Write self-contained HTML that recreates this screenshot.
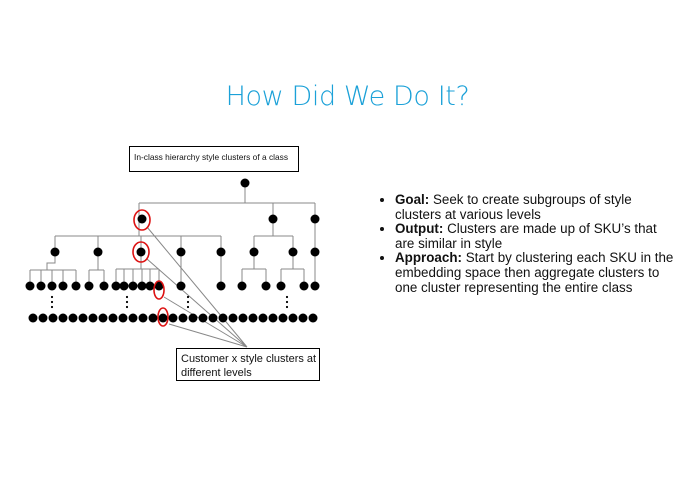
<!DOCTYPE html>
<html><head><meta charset="utf-8"><style>
body{margin:0;width:695px;height:494px;background:#fff;overflow:hidden;position:relative;font-family:"Liberation Sans",sans-serif}
.t{position:absolute;left:0;width:695px;top:81px;text-align:center;font-size:27px;color:#1ba1d8;font-family:"DejaVu Sans","Liberation Sans",sans-serif;font-weight:200;letter-spacing:-0.4px}
ul{position:absolute;left:373px;top:193px;margin:0;padding:0 0 0 22px;width:300px;font-size:13.4px;line-height:14.6px;color:#111}
li{margin:0;white-space:nowrap}
</style></head><body>
<div class="t">How Did We Do It?</div>
<ul>
<li><b>Goal:</b> Seek to create subgroups of style<br>clusters at various levels</li>
<li><b>Output:</b> Clusters are made up of SKU’s that<br>are similar in style</li>
<li><b>Approach:</b> Start by clustering each SKU in the<br>embedding space then aggregate clusters to<br>one cluster representing the entire class</li>
</ul>
<svg width="695" height="494" style="position:absolute;left:0;top:0">
<g stroke="#888" stroke-width="1" fill="none">
<path d="M245 183V203M139 203H315M139 203V219M273 203V219M315 203V219"/>
<path d="M139 219V236M55 236H221M55 236V252M98 236V252M141 236V252M181 236V252M221 236V252"/>
<path d="M273 219V236M254 236H293M254 236V252M293 236V252M315 219V286"/>
<path d="M55 252V263H47V270M30 270H76M30 270V286M41 270V286M52 270V286M63 270V286M76 270V286"/>
<path d="M98 252V270M89 270H104M89 270V286M104 270V286"/>
<path d="M141 252V269M116 269H159M116 269V286M124 269V286M133 269V286M142 269V286M150 269V286M159 269V286"/>
<path d="M181 252V286M221 252V286"/>
<path d="M254 252V269M242 269H266M242 269V286M266 269V286"/>
<path d="M293 252V269M281 269H304M281 269V286M304 269V286"/>
<path d="M247 347L147 227M247 347L147 259M247 347L164 297M247 347L169 324"/>
</g>
<g fill="#000">
<circle cx="245" cy="183" r="4.5"/>
<circle cx="142" cy="219" r="4.5"/><circle cx="273" cy="219" r="4.5"/><circle cx="315" cy="219" r="4.5"/>
<circle cx="55" cy="252" r="4.5"/><circle cx="98" cy="252" r="4.5"/><circle cx="141" cy="252" r="4.5"/><circle cx="181" cy="252" r="4.5"/><circle cx="221" cy="252" r="4.5"/><circle cx="254" cy="252" r="4.5"/><circle cx="293" cy="252" r="4.5"/><circle cx="315" cy="252" r="4.5"/>
<circle cx="30" cy="286" r="4.5"/><circle cx="41" cy="286" r="4.5"/><circle cx="52" cy="286" r="4.5"/><circle cx="63" cy="286" r="4.5"/><circle cx="76" cy="286" r="4.5"/><circle cx="89" cy="286" r="4.5"/><circle cx="104" cy="286" r="4.5"/><circle cx="116" cy="286" r="4.5"/><circle cx="124" cy="286" r="4.5"/><circle cx="133" cy="286" r="4.5"/><circle cx="142" cy="286" r="4.5"/><circle cx="150" cy="286" r="4.5"/><circle cx="159" cy="286" r="4.5"/><circle cx="181" cy="286" r="4.5"/><circle cx="221" cy="286" r="4.5"/><circle cx="242" cy="286" r="4.5"/><circle cx="266" cy="286" r="4.5"/><circle cx="281" cy="286" r="4.5"/><circle cx="304" cy="286" r="4.5"/><circle cx="315" cy="286" r="4.5"/>
<g id="d"><circle cx="52" cy="297" r="1.1"/><circle cx="52" cy="302" r="1.1"/><circle cx="52" cy="307" r="1.1"/></g>
<use href="#d" x="75"/><use href="#d" x="136"/><use href="#d" x="235"/>
<g id="r"><circle cx="33" cy="318" r="4.5"/><circle cx="43" cy="318" r="4.5"/><circle cx="53" cy="318" r="4.5"/><circle cx="63" cy="318" r="4.5"/><circle cx="73" cy="318" r="4.5"/><circle cx="83" cy="318" r="4.5"/><circle cx="93" cy="318" r="4.5"/></g>
<use href="#r" x="70"/><use href="#r" x="140"/><use href="#r" x="210"/><circle cx="313" cy="318" r="4.5"/>
</g>
<g stroke="#d11" stroke-width="1.6" fill="none">
<ellipse cx="142" cy="220" rx="8" ry="10"/><ellipse cx="141" cy="252" rx="8" ry="10"/>
<ellipse cx="159" cy="290" rx="5" ry="9"/><ellipse cx="163" cy="317" rx="5" ry="9"/>
</g>
<rect x="129.5" y="146.5" width="169" height="25" fill="#fff" stroke="#000"/>
<text x="134" y="160" font-size="8.4" font-family="Liberation Sans" fill="#111">In-class hierarchy style clusters of a class</text>
<rect x="176.5" y="348.5" width="143" height="32" fill="#fff" stroke="#000"/>
<text x="181" y="362" font-size="11" font-family="Liberation Sans" fill="#111">Customer x style clusters at</text>
<text x="181" y="376" font-size="11" font-family="Liberation Sans" fill="#111">different levels</text>
</svg>
</body></html>
